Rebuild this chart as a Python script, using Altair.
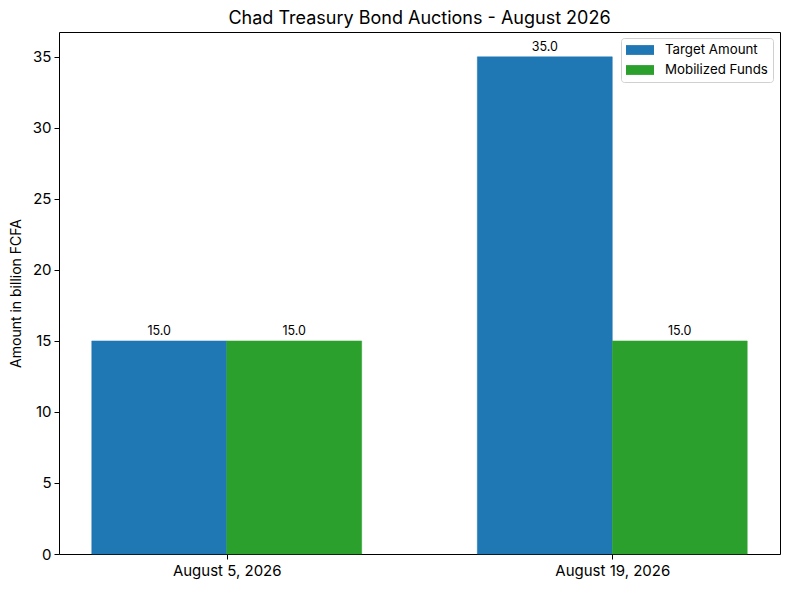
import altair as alt
import pandas as pd

dates = ["August 5, 2026", "August 19, 2026"]
series = ["Target Amount", "Mobilized Funds"]
target = [15.0, 35.0]
mobilized = [15.0, 15.0]
colors = ["#1f77b4", "#2ca02c"]
y_ticks = [0, 5, 10, 15, 20, 25, 30, 35]

rows = []
for i, d in enumerate(dates):
    rows.append({"date": d, "idx": i, "series": series[0], "sidx": 0, "value": target[i]})
    rows.append({"date": d, "idx": i, "series": series[1], "sidx": 1, "value": mobilized[i]})
df = pd.DataFrame(rows)

bar_w = 0.35
FONT = "Inter"
label_expr = "[" + ",".join("'" + d + "'" for d in dates) + "][datum.value]"

base = alt.Chart(df).transform_calculate(
    x0=f"datum.idx + (datum.sidx - 1) * {bar_w}",
    x1=f"datum.idx + datum.sidx * {bar_w}",
    xm=f"datum.idx + (datum.sidx - 0.5) * {bar_w}",
    lbl="format(datum.value, '.1f')",
)

x_domain = [-0.435, 1.435]
y_domain = [0, 36.75]

def xs():
    return alt.Scale(domain=x_domain, nice=False, zero=False, padding=0)

def ys():
    return alt.Scale(domain=y_domain, nice=False, padding=0)

bars = base.mark_bar(cornerRadius=0, strokeWidth=0.5).encode(
    x=alt.X("x0:Q", scale=xs(),
            axis=alt.Axis(orient="bottom", values=[0, 1], labelExpr=label_expr, title=None,
                          grid=False, labelFontSize=15, tickSize=5, labelPadding=4,
                          domainColor="black", tickColor="black", labelColor="black",
                          labelFont=FONT)),
    x2="x1:Q",
    y=alt.Y("value:Q", scale=ys(),
            axis=alt.Axis(orient="left", values=y_ticks, title="Amount in billion FCFA",
                          grid=False, labelFontSize=15, tickSize=5, labelPadding=3,
                          titleFontSize=14, titleFontWeight="normal", titlePadding=9,
                          domainColor="black", tickColor="black", labelColor="black",
                          titleColor="black", labelFont=FONT, titleFont=FONT)),
    y2=alt.datum(0),
    color=alt.Color("series:N", scale=alt.Scale(domain=series, range=colors),
                    legend=alt.Legend(title=None, orient="none", legendX=562, legendY=6,
                                      symbolType="M-2,-0.7L2,-0.7L2,0.7L-2,0.7Z",
                                      symbolSize=196, symbolStrokeWidth=0, symbolOffset=7,
                                      labelFontSize=13.3, labelFont=FONT, labelColor="black",
                                      labelOffset=18, rowPadding=6,
                                      strokeColor="#d0d0d0", fillColor="white",
                                      cornerRadius=3, padding=5)),
    stroke=alt.Stroke("series:N", scale=alt.Scale(domain=series, range=colors), legend=None),
)

texts = base.mark_text(baseline="bottom", dy=-3, fontSize=12.5, font=FONT, color="black").encode(
    x=alt.X("xm:Q", scale=xs(),
            axis=alt.Axis(orient="top", labels=False, ticks=False, title=None, grid=False,
                          domainColor="black")),
    y=alt.Y("value:Q", scale=ys(),
            axis=alt.Axis(orient="right", labels=False, ticks=False, title=None, grid=False,
                          domainColor="black")),
    text="lbl:N",
)

chart = (bars + texts).resolve_scale(x="independent", y="independent").resolve_axis(
    x="independent", y="independent"
).properties(
    width=721, height=522,
    title=alt.TitleParams("Chad Treasury Bond Auctions - August 2026", fontSize=18,
                          font=FONT, fontWeight="normal", color="black", anchor="middle",
                          offset=4),
    autosize=alt.AutoSizeParams(type="none"),
    padding={"left": 51, "top": 24, "right": 2, "bottom": 28},
).configure_view(stroke=None).configure(background="white")

chart.save("out.html", embed_options={"renderer": "svg", "actions": False})
